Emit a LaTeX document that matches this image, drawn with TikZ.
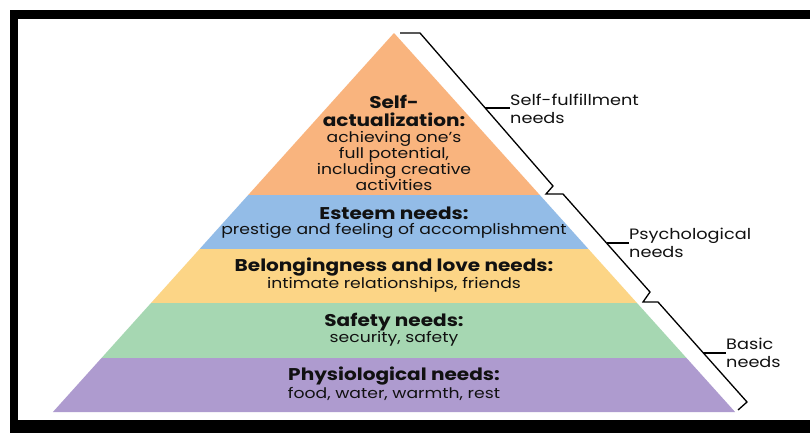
\documentclass[tikz,border=0pt]{standalone}
\usepackage{fontspec}
\setmainfont{Poppins}[FakeStretch=1.18]
\usetikzlibrary{calc}
\definecolor{cOrange}{HTML}{F9B47E}
\definecolor{cBlue}{HTML}{93BCE7}
\definecolor{cYellow}{HTML}{FCD586}
\definecolor{cGreen}{HTML}{A6D7B2}
\definecolor{cPurple}{HTML}{AE9BCF}
\definecolor{cText}{HTML}{111111}
\begin{document}
\begin{tikzpicture}[x=1pt,y=-1pt,
  head/.style={font=\fontsize{17}{18}\selectfont\bfseries, text=cText, inner sep=0pt, anchor=center},
  desc/.style={font=\fontsize{14.6}{16}\selectfont, text=cText, inner sep=0pt, anchor=center},
  side/.style={font=\fontsize{15}{18}\selectfont, text=cText, inner sep=0pt, anchor=west, align=left},
  brace/.style={draw=black, line width=1.3pt, line join=miter}]
\useasboundingbox (0,0) rectangle (810,432);
% frame
\fill[white] (0,0) rectangle (810,432);
\fill[black] (10,10) rectangle (812,434);
\fill[white] (18,19) rectangle (812,420);
% pyramid layers
\coordinate (apex) at (394,33);
\fill[cOrange] (apex) -- (539.8,195) -- (248.2,195) -- cycle;
\fill[cBlue] (248.2,195) -- (539.8,195) -- (588.4,249) -- (199.6,249) -- cycle;
\fill[cYellow] (199.6,249) -- (588.4,249) -- (637,303) -- (151,303) -- cycle;
\fill[cGreen] (151,303) -- (637,303) -- (686.5,358) -- (101.5,358) -- cycle;
\fill[cPurple] (101.5,358) -- (686.5,358) -- (735.1,412) -- (52.9,412) -- cycle;
% texts
\node[head] (sa1) at (394,102) {Self-};
\node[head] (sa2) at (394,120) {actualization:};
\node[desc, align=center] (sa3) at (394,161) {achieving one’s\\full potential,\\including creative\\activities};
\node[head] (es1) at (394,213.5) {Esteem needs:};
\node[desc] (es2) at (394,230.5) {prestige and feeling of accomplishment};
\node[head] (be1) at (394,267.5) {Belongingness and love needs:};
\node[desc] (be2) at (394,284.5) {intimate relationships, friends};
\node[head] (sf1) at (394,322) {Safety needs:};
\node[desc] (sf2) at (394,339) {security, safety};
\node[head] (ph1) at (394,376.5) {Physiological needs:};
\node[desc] (ph2) at (394,393.5) {food, water, warmth, rest};
% braces
\coordinate (b1s) at (400,33);
\coordinate (b1a) at (420,33);
\coordinate (b1b) at (553,186);
\coordinate (b1c) at (546,194);
\coordinate (b2a) at (563,194);
\coordinate (b2b) at (650,292);
\coordinate (b2c) at (643,302);
\coordinate (b3a) at (658,302);
\coordinate (b3b) at (747,402);
\coordinate (b3c) at (738,410);
\draw[brace] (b1s) -- (b1a) -- (b1b) -- (b1c) -- (b2a) -- (b2b) -- (b2c) -- (b3a) -- (b3b) -- (b3c);
\coordinate (t1) at ($(b1a)!0.49!(b1b)$);
\coordinate (t2) at ($(b2a)!0.5!(b2b)$);
\coordinate (t3) at ($(b3a)!0.51!(b3b)$);
\node[side] (l1) at (510,109) {Self-fulfillment\\needs};
\node[side] (l2) at (629,243) {Psychological\\needs};
\node[side] (l3) at (726,353) {Basic\\needs};
\draw[brace] (t1) -- (t1 -| l1.west);
\draw[brace] (t2) -- (t2 -| l2.west);
\draw[brace] (t3) -- (t3 -| l3.west);
\end{tikzpicture}
\end{document}
